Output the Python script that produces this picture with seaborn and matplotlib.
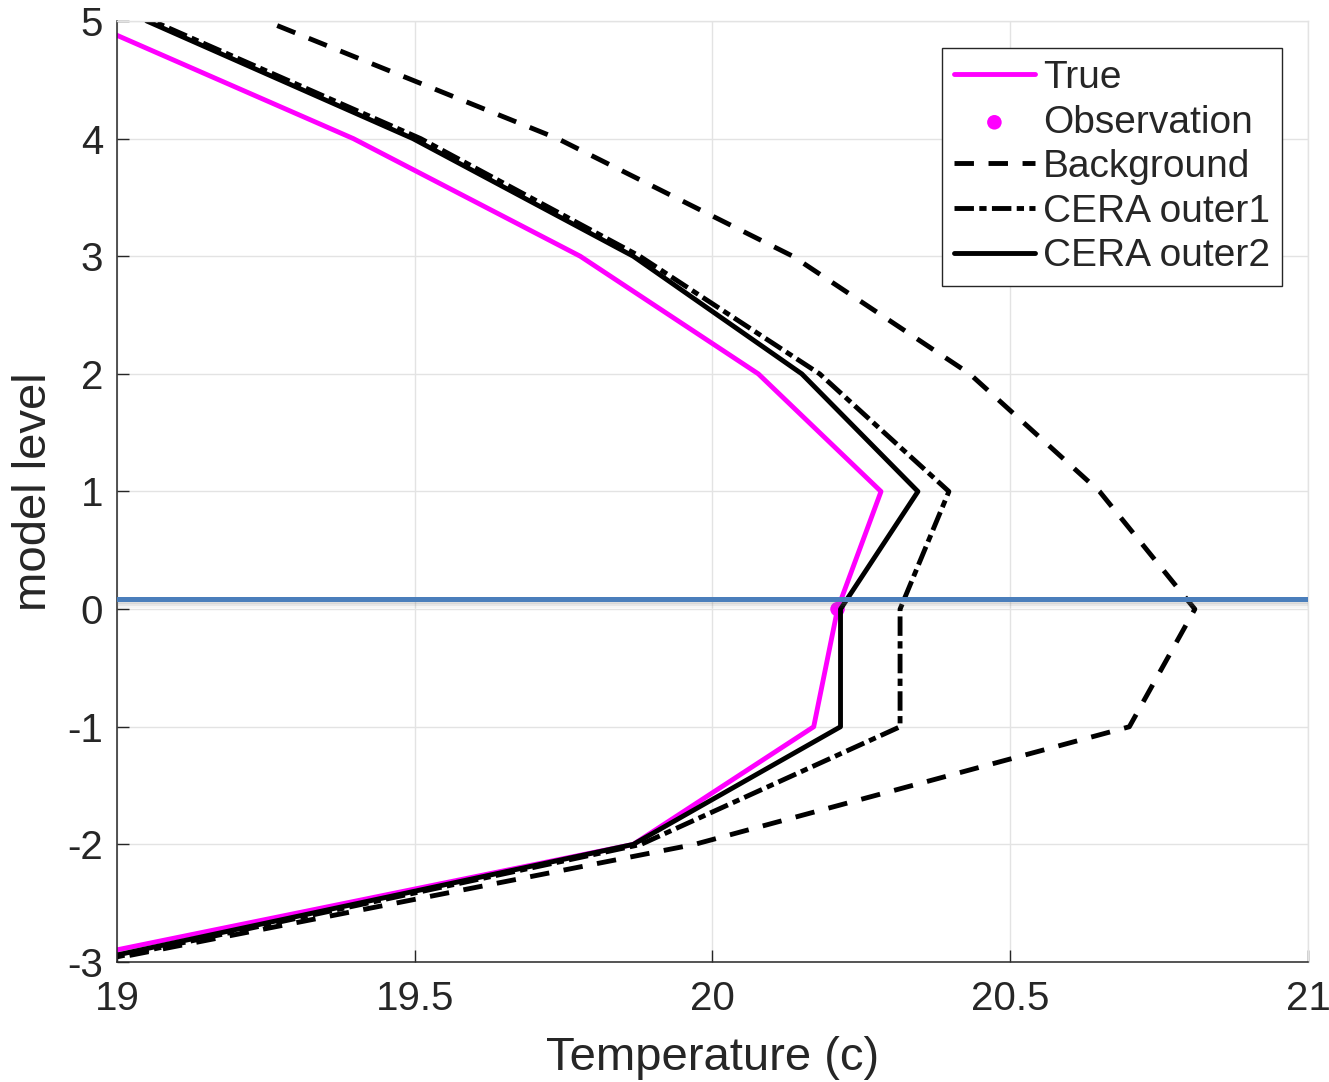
import matplotlib
matplotlib.use('Agg')
import matplotlib.pyplot as plt
import matplotlib.patheffects as pe
from matplotlib.ticker import FormatStrFormatter
import numpy as np
import pandas as pd
import seaborn as sns

# model levels (y) and temperatures (x)
levels = [-3, -2, -1, 0, 1, 2, 3, 4, 5]
true_t = [18.90, 19.867, 20.17, 20.21, 20.283, 20.077, 19.778, 19.397, 18.945]
background_t = [18.965, 19.97, 20.70, 20.81, 20.65, 20.432, 20.135, 19.74, 19.25]
outer1_t = [18.96, 19.88, 20.315, 20.315, 20.397, 20.18, 19.878, 19.51, 19.06]
outer2_t = [18.945, 19.867, 20.215, 20.215, 20.345, 20.15, 19.867, 19.497, 19.05]
obs_level = [0]
obs_t = [20.21]
obs_line_level = 0.09

sns.set_theme(style='whitegrid')
plt.rcParams['font.family'] = ['Liberation Sans', 'DejaVu Sans']

fig = plt.figure(figsize=(13.29, 10.82), dpi=100)
ax = fig.add_axes([0.088, 0.1109, 0.8962, 0.8697])
ax.set_facecolor('white')

lw = 3.5
sns.lineplot(x=true_t, y=levels, orient='y', color='#ff00ff', lw=lw, label='True', ax=ax)
sns.scatterplot(x=obs_t, y=obs_level, color='#ff00ff', s=110, edgecolor='none',
                label='Observation', ax=ax, zorder=2)
sns.lineplot(x=background_t, y=levels, orient='y', color='black', lw=lw,
             linestyle=(0, (4, 3)), label='Background', ax=ax)
sns.lineplot(x=outer1_t, y=levels, orient='y', color='black', lw=lw,
             linestyle=(0, (4, 1.1, 1.5, 1.1)), label='CERA outer1', ax=ax)
sns.lineplot(x=outer2_t, y=levels, orient='y', color='black', lw=lw,
             label='CERA outer2', ax=ax)

# horizontal observation-height line with a soft shadow
ax.axhline(obs_line_level, color='#4a7ebb', lw=3.6, zorder=5,
           path_effects=[pe.SimpleLineShadow(offset=(0, -1.5), shadow_color='grey', alpha=0.15),
                         pe.SimpleLineShadow(offset=(0, -3), shadow_color='grey', alpha=0.12),
                         pe.SimpleLineShadow(offset=(0, -4.5), shadow_color='grey', alpha=0.08),
                         pe.Normal()])

ax.set_xlim(19, 21)
ax.set_ylim(-3, 5)
ax.set_xticks([19, 19.5, 20, 20.5, 21])
ax.set_yticks(range(-3, 6))
ax.xaxis.set_major_formatter(FormatStrFormatter('%g'))
ax.yaxis.set_major_formatter(FormatStrFormatter('%g'))

ax.grid(True, color='#e3e3e3', lw=1.0)
for side in ['left', 'bottom']:
    ax.spines[side].set_color('#262626')
    ax.spines[side].set_linewidth(1.1)
for side in ['top', 'right']:
    ax.spines[side].set_color('#e3e3e3')
    ax.spines[side].set_linewidth(1.0)

ax.tick_params(axis='both', direction='in', length=8.5, width=1.0, color='#262626',
               labelsize=29, labelcolor='#262626', bottom=True, left=True)
ax.tick_params(axis='x', pad=13)
ax.tick_params(axis='y', pad=10)

ax.set_xlabel('Temperature (c)', fontsize=34, color='#262626', labelpad=13)
ax.set_ylabel('model level', fontsize=34, color='#262626', labelpad=8)

leg = ax.legend(loc='upper right', bbox_to_anchor=(0.978, 0.971), borderaxespad=0,
                fontsize=28, frameon=True, fancybox=False, framealpha=1,
                edgecolor='#262626', handlelength=2.1, handletextpad=0.2,
                labelspacing=0.22, borderpad=0.3)
leg.get_frame().set_linewidth(1.0)

plt.savefig('out.png', dpi=100)
